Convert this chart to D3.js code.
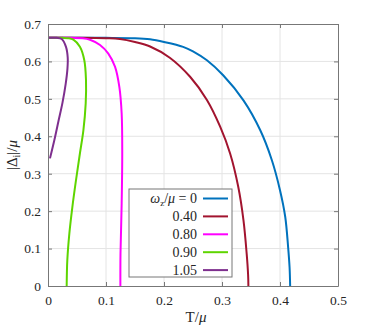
<!DOCTYPE html>
<html><head><meta charset="utf-8">
<script src="https://cdn.jsdelivr.net/npm/d3@7"></script>
<style>
html,body{margin:0;padding:0;background:#fff;}
svg text{font-family:"Liberation Serif","Times New Roman","DejaVu Serif",serif !important;fill:#262626;}
</style></head>
<body><svg id="c" width="374" height="327"></svg>
<script>
// ---- data ----
const xTicks = [0, 0.1, 0.2, 0.3, 0.4, 0.5];
const yTicks = [0, 0.1, 0.2, 0.3, 0.4, 0.5, 0.6, 0.7];
const legendLabels = ["0", "0.40", "0.80", "0.90", "1.05"];
const colors = ["#0072BD", "#A2142F", "#FF00FF", "#5ED500", "#7E2F8E"];

const T0   = [0, 0.05, 0.1, 0.15, 0.176, 0.2, 0.233, 0.25, 0.274, 0.302, 0.337, 0.366, 0.386, 0.4, 0.409, 0.414, 0.4165, 0.4175];
const D0   = [0.663, 0.663, 0.663, 0.662, 0.659, 0.652, 0.639, 0.627, 0.603, 0.563, 0.496, 0.416, 0.336, 0.256, 0.185, 0.104, 0.05, 0];
const T040 = [0, 0.05, 0.1, 0.124, 0.15, 0.176, 0.21, 0.245, 0.274, 0.297, 0.314, 0.328, 0.337, 0.3425, 0.345, 0.3455];
const D040 = [0.663, 0.663, 0.662, 0.660, 0.652, 0.640, 0.610, 0.559, 0.497, 0.425, 0.354, 0.265, 0.176, 0.087, 0.03, 0];
const T080 = [0, 0.04, 0.06, 0.0724, 0.0897, 0.104, 0.1155, 0.123, 0.127, 0.128, 0.127, 0.125, 0.1248];
const D080 = [0.663, 0.663, 0.662, 0.658, 0.644, 0.621, 0.586, 0.532, 0.461, 0.354, 0.220, 0.087, 0];
const T090 = [0, 0.025, 0.035, 0.0437, 0.055, 0.0626, 0.0655, 0.065, 0.061, 0.055, 0.0483, 0.042, 0.0368, 0.0333, 0.0322];
const D090 = [0.663, 0.663, 0.662, 0.658, 0.639, 0.603, 0.550, 0.488, 0.416, 0.354, 0.283, 0.211, 0.140, 0.069, 0];
const T105 = [0, 0.015, 0.0236, 0.031, 0.034, 0.0335, 0.0305, 0.025, 0.018, 0.011, 0.0034];
const D105 = [0.663, 0.663, 0.660, 0.639, 0.610, 0.580, 0.540, 0.490, 0.440, 0.390, 0.341];

const seriesT = [T0, T040, T080, T090, T105];
const seriesD = [D0, D040, D080, D090, D105];

// ---- layout ----
const FONT = "Liberation Serif";
const L = 48, R = 338, TOP = 24, B = 286;
const svg = d3.select("#c");
const x = d3.scaleLinear().domain([0, 0.5]).range([L, R]);
const y = d3.scaleLinear().domain([0, 0.7]).range([B, TOP]);
const fmt = d => d === 0 ? "0" : d3.format(".1f")(d);

// grid
const g = svg.append("g");
g.selectAll(".gx").data(xTicks.slice(1, -1)).enter().append("line")
  .attr("x1", d => x(d)).attr("x2", d => x(d)).attr("y1", TOP).attr("y2", B)
  .attr("stroke", "#e4e4e4").attr("stroke-width", 1);
g.selectAll(".gy").data(yTicks.slice(1, -1)).enter().append("line")
  .attr("y1", d => y(d)).attr("y2", d => y(d)).attr("x1", L).attr("x2", R)
  .attr("stroke", "#e4e4e4").attr("stroke-width", 1);

// curves
const line = d3.line().x(d => x(d[0])).y(d => y(d[1])).curve(d3.curveCatmullRom.alpha(0.5));
seriesT.forEach((ts, i) => {
  const pts = ts.map((t, j) => [t, seriesD[i][j]]);
  svg.append("path").attr("d", line(pts)).attr("fill", "none")
    .attr("stroke", colors[i]).attr("stroke-width", 2);
});

// axes with inward ticks on all sides
const axB = d3.axisBottom(x).tickValues(xTicks).tickFormat(fmt).tickSizeInner(-4).tickSizeOuter(0).tickPadding(9);
const axT = d3.axisTop(x).tickValues(xTicks).tickFormat("").tickSizeInner(-4).tickSizeOuter(0);
const axL = d3.axisLeft(y).tickValues(yTicks).tickFormat(fmt).tickSizeInner(-4).tickSizeOuter(0).tickPadding(7);
const axR = d3.axisRight(y).tickValues(yTicks).tickFormat("").tickSizeInner(-4).tickSizeOuter(0);
function style(sel) {
  sel.attr("font-family", FONT);
  sel.selectAll("path").attr("stroke", "#777");
  sel.selectAll("line").attr("stroke", "#777");
  sel.selectAll("text").attr("font-family", FONT).attr("font-size", 13.5).attr("fill", "#333");
}
style(svg.append("g").attr("transform", `translate(0,${B})`).call(axB));
style(svg.append("g").attr("transform", `translate(0,${TOP})`).call(axT));
style(svg.append("g").attr("transform", `translate(${L},0)`).call(axL));
style(svg.append("g").attr("transform", `translate(${R},0)`).call(axR));

// axis labels
const xl = svg.append("text").attr("x", (L + R) / 2 + 3).attr("y", 322).attr("text-anchor", "middle")
  .attr("font-family", FONT).attr("font-size", 15);
xl.append("tspan").text("T/");
xl.append("tspan").attr("font-style", "italic").text("μ");

const yl = svg.append("text").attr("transform", `translate(17,${(TOP + B) / 2}) rotate(-90)`)
  .attr("text-anchor", "middle").attr("font-family", FONT).attr("font-size", 15);
yl.append("tspan").text("|Δ");
yl.append("tspan").attr("font-size", 10).attr("dy", 3).text("i");
yl.append("tspan").attr("dy", -3).text("|/");
yl.append("tspan").attr("font-style", "italic").text("μ");

// legend
const lg = svg.append("g");
lg.append("rect").attr("x", 129).attr("y", 189).attr("width", 103).attr("height", 88)
  .attr("fill", "#fff").attr("stroke", "#777").attr("stroke-width", 1);
legendLabels.forEach((lab, i) => {
  const yy = 198.5 + i * 17.9;
  lg.append("line").attr("x1", 203).attr("x2", 228).attr("y1", yy).attr("y2", yy)
    .attr("stroke", colors[i]).attr("stroke-width", 2);
  const t = lg.append("text").attr("x", 197).attr("y", yy + 4.5).attr("text-anchor", "end")
    .attr("font-family", FONT).attr("font-size", 14);
  if (i === 0) {
    t.append("tspan").attr("font-style", "italic").text("ω");
    t.append("tspan").attr("font-size", 9).attr("dy", 3).text("z");
    t.append("tspan").attr("dy", -3).text("/");
    t.append("tspan").attr("font-style", "italic").text("μ");
    t.append("tspan").text(" = " + lab);
  } else {
    t.text(lab);
  }
});
</script></body></html>
